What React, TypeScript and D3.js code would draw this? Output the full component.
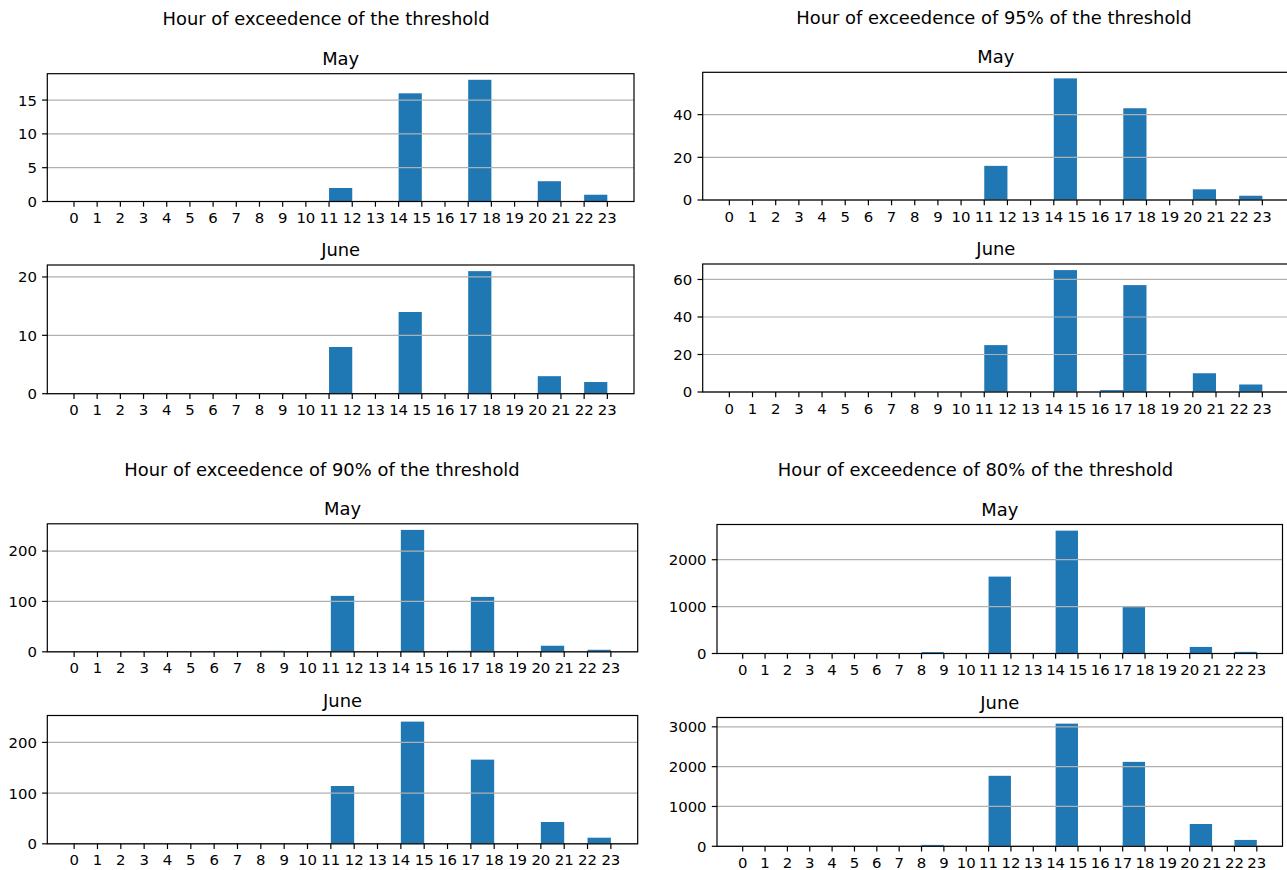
import React from 'react'
import * as d3 from 'd3'

// bin starts (each bin is one hour wide) and the hour ticks shown on the x axis
const binStarts = [0, 1, 2, 3, 4, 5, 6, 7, 8, 9, 10, 11, 12, 13, 14, 15, 16, 17, 18, 19, 20, 21, 22]
const hourTicks = [0, 1, 2, 3, 4, 5, 6, 7, 8, 9, 10, 11, 12, 13, 14, 15, 16, 17, 18, 19, 20, 21, 22, 23]

const months = ['May', 'June']
const groupTitles = [
  'Hour of exceedence of the threshold',
  'Hour of exceedence of 95% of the threshold',
  'Hour of exceedence of 90% of the threshold',
  'Hour of exceedence of 80% of the threshold',
]

// counts per hour bin
const threshMay = [0, 0, 0, 0, 0, 0, 0, 0, 0, 0, 0, 2, 0, 0, 16, 0, 0, 18, 0, 0, 3, 0, 1]
const threshJune = [0, 0, 0, 0, 0, 0, 0, 0, 0, 0, 0, 8, 0, 0, 14, 0, 0, 21, 0, 0, 3, 0, 2]
const p95May = [0, 0, 0, 0, 0, 0, 0, 0, 0, 0, 0, 16, 0, 0, 57, 0, 0, 43, 0, 0, 5, 0, 2]
const p95June = [0, 0, 0, 0, 0, 0, 0, 0, 0, 0, 0, 25, 0, 0, 65, 0, 1, 57, 0, 0, 10, 0, 4]
const p90May = [0, 0, 0, 0, 0, 0, 0, 0, 2, 0, 0, 111, 0, 0, 242, 0, 2, 109, 0, 0, 12, 0, 4]
const p90June = [0, 0, 0, 0, 0, 0, 1, 0, 1, 0, 0, 114, 0, 0, 241, 1, 1, 166, 0, 0, 43, 0, 12]
const p80May = [0, 0, 0, 0, 0, 0, 0, 0, 30, 0, 0, 1640, 0, 0, 2620, 0, 0, 990, 0, 0, 140, 0, 35]
const p80June = [0, 0, 0, 0, 0, 0, 0, 0, 35, 0, 0, 1770, 0, 0, 3080, 0, 0, 2120, 0, 0, 560, 0, 160]

// y tick values per panel
const ticksThreshMay = [0, 5, 10, 15]
const ticksThreshJune = [0, 10, 20]
const ticksP95May = [0, 20, 40]
const ticksP95June = [0, 20, 40, 60]
const ticksP90 = [0, 100, 200]
const ticksP80May = [0, 1000, 2000]
const ticksP80June = [0, 1000, 2000, 3000]

const FONT = 'DejaVu Sans, sans-serif'
const BLUE = '#1f77b4'
const LW = 1.2

type Box = { left: number; right: number; top: number; bottom: number }

// groups: [threshold, 95%, 90%, 80%], each with May and June panels
const groups = [
  {
    title: groupTitles[0], cx: 326, ty: 25,
    panels: [
      { box: { left: 47.3, right: 634, top: 73.7, bottom: 201.5 }, values: threshMay, ticks: ticksThreshMay },
      { box: { left: 47.3, right: 634, top: 265, bottom: 393.7 }, values: threshJune, ticks: ticksThreshJune },
    ],
  },
  {
    title: groupTitles[1], cx: 994, ty: 24,
    panels: [
      { box: { left: 702.7, right: 1289, top: 72.3, bottom: 200 }, values: p95May, ticks: ticksP95May },
      { box: { left: 702.7, right: 1289, top: 264, bottom: 392 }, values: p95June, ticks: ticksP95June },
    ],
  },
  {
    title: groupTitles[2], cx: 322, ty: 476,
    panels: [
      { box: { left: 47.3, right: 637.7, top: 523.8, bottom: 651.8 }, values: p90May, ticks: ticksP90 },
      { box: { left: 47.3, right: 637.7, top: 715.5, bottom: 843.8 }, values: p90June, ticks: ticksP90 },
    ],
  },
  {
    title: groupTitles[3], cx: 975.5, ty: 476,
    panels: [
      { box: { left: 717, right: 1282.5, top: 524.5, bottom: 653.5 }, values: p80May, ticks: ticksP80May },
      { box: { left: 717, right: 1282.5, top: 717.5, bottom: 846.3 }, values: p80June, ticks: ticksP80June },
    ],
  },
]

function Panel({ box, values, ticks, title }: { box: Box; values: number[]; ticks: number[]; title: string }) {
  const x = d3.scaleLinear().domain([-1.15, 24.15]).range([box.left, box.right])
  const y = d3.scaleLinear().domain([0, (d3.max(values) as number) * 1.05]).range([box.bottom, box.top])

  return (
    <g>
      {values.map((v, i) =>
        v > 0 ? (
          <rect
            key={i}
            x={x(binStarts[i])}
            width={x(binStarts[i] + 1) - x(binStarts[i])}
            y={y(v)}
            height={y(0) - y(v)}
            fill={BLUE}
          />
        ) : null
      )}
      {ticks.map((t) => (
        <line key={'g' + t} x1={box.left} x2={box.right} y1={y(t)} y2={y(t)} stroke="#b0b0b0" strokeWidth={LW} />
      ))}
      <rect x={box.left} y={box.top} width={box.right - box.left} height={box.bottom - box.top} fill="none" stroke="#000" strokeWidth={LW} />
      {ticks.map((t) => (
        <g key={'y' + t}>
          <line x1={box.left - 5.2} x2={box.left} y1={y(t)} y2={y(t)} stroke="#000" strokeWidth={LW} />
          <text x={box.left - 10.4} y={y(t)} dy="0.365em" textAnchor="end" fontSize={14.9} fontFamily={FONT} fill="#000">
            {t}
          </text>
        </g>
      ))}
      {hourTicks.map((h) => (
        <g key={'x' + h}>
          <line x1={x(h)} x2={x(h)} y1={box.bottom} y2={box.bottom + 5.2} stroke="#000" strokeWidth={LW} />
          <text x={x(h)} y={box.bottom + 21.5} textAnchor="middle" fontSize={14.9} fontFamily={FONT} fill="#000">
            {h}
          </text>
        </g>
      ))}
      <text x={(box.left + box.right) / 2} y={box.top - 8.9} textAnchor="middle" fontSize={17.9} fontFamily={FONT} fill="#000">
        {title}
      </text>
    </g>
  )
}

export default function App() {
  return (
    <svg
      width={1287}
      height={870}
      style={{ position: 'absolute', left: 0, top: 0, background: '#fff' }}
    >
      <rect width={1287} height={870} fill="#fff" />
      {groups.map((g, gi) => (
        <g key={gi}>
          <text x={g.cx} y={g.ty} textAnchor="middle" fontSize={17.9} fontFamily={FONT} fill="#000">
            {g.title}
          </text>
          {g.panels.map((p, pi) => (
            <Panel key={pi} box={p.box} values={p.values} ticks={p.ticks} title={months[pi]} />
          ))}
        </g>
      ))}
    </svg>
  )
}
